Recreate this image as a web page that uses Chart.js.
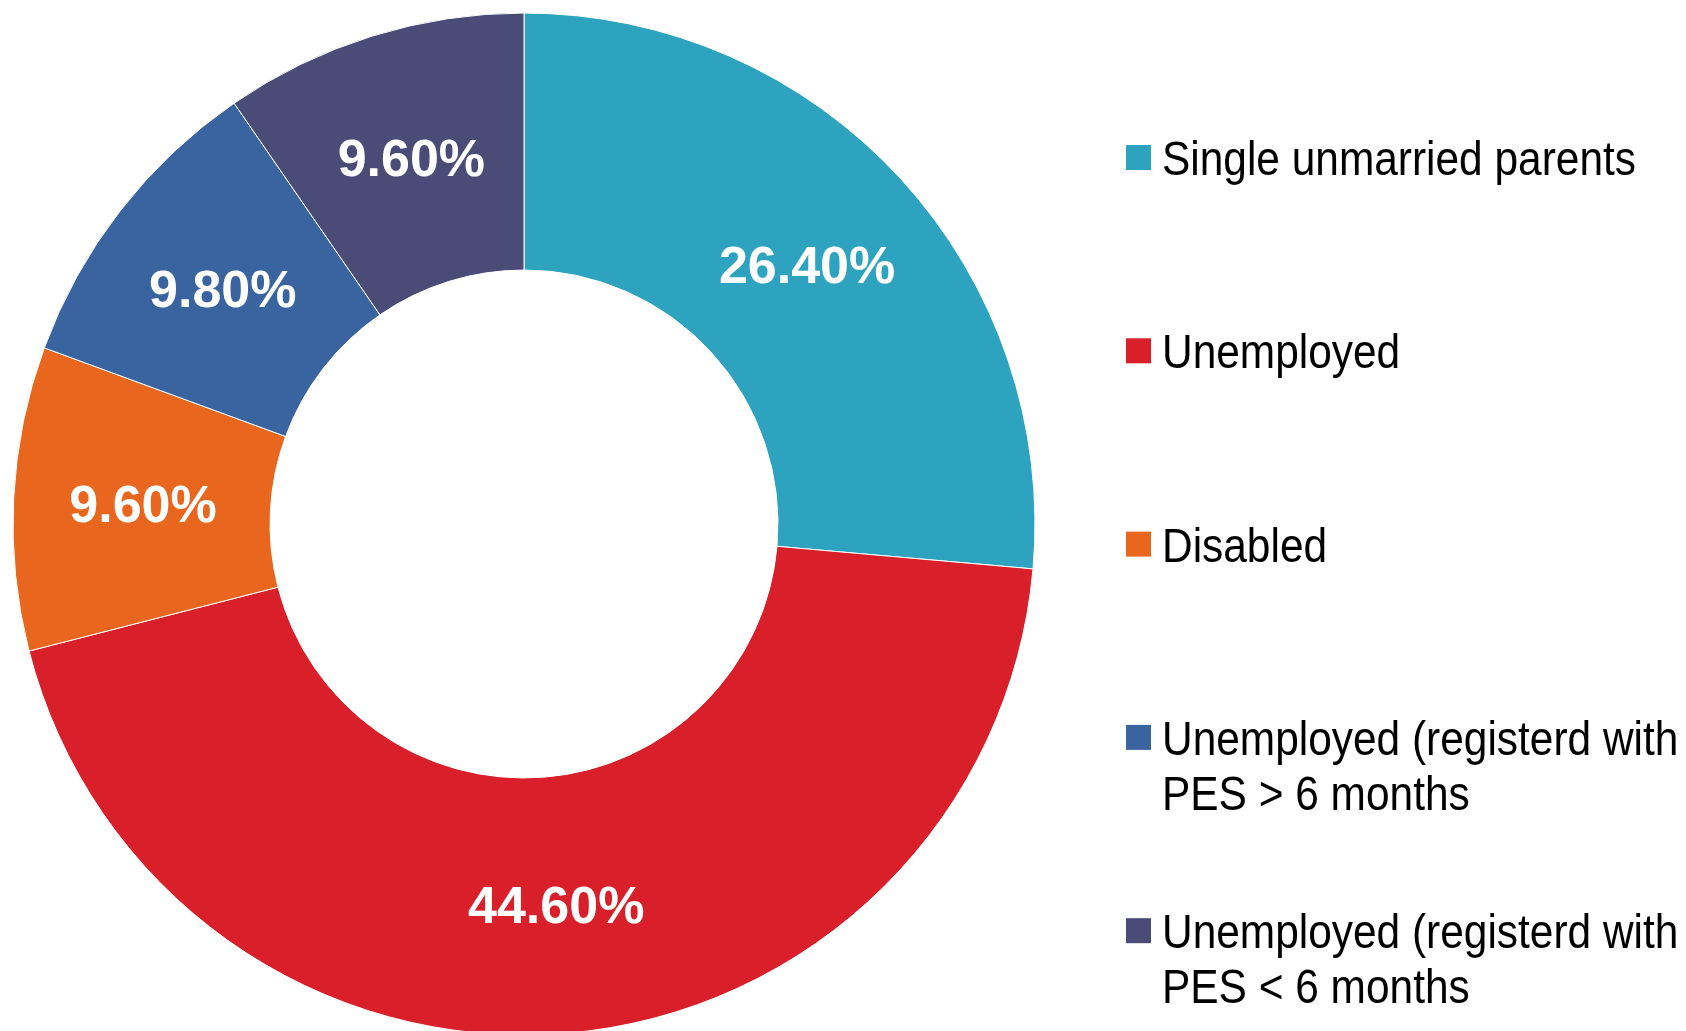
<!DOCTYPE html>
<html>
<head>
<meta charset="utf-8">
<script src="https://cdn.jsdelivr.net/npm/chart.js"></script>
<style>
  html, body { margin: 0; padding: 0; background: #fff; }
  #wrap { width: 1686px; height: 1031px; position: relative; }
</style>
</head>
<body>
<div id="wrap"><canvas id="donut"></canvas></div>
<script>
// categories, in clockwise order from 12 o'clock
const categories = [
    'Single unmarried parents',
    'Unemployed',
    'Disabled',
    'Unemployed (registerd with\nPES > 6 months',
    'Unemployed (registerd with\nPES < 6 months'
];
const shares = [26.4, 44.6, 9.6, 9.8, 9.6];   // per cent
const sliceColors = ['#2EA3BF', '#D91F29', '#E8661E', '#3A64A0', '#4A4B77'];

// white percentage text on each slice
const sliceLabels = {
    id: 'sliceLabels',
    afterDatasetsDraw(chart) {
        const ctx = chart.ctx;
        const meta = chart.getDatasetMeta(0);
        ctx.save();
        ctx.fillStyle = '#fff';
        ctx.font = 'bold 52px "Liberation Sans", Arial, sans-serif';
        ctx.textAlign = 'center';
        ctx.textBaseline = 'middle';
        meta.data.forEach((arc, i) => {
            const p = arc.tooltipPosition();
            ctx.fillText(shares[i].toFixed(2) + '%', p.x + 1, p.y + 3);
        });
        ctx.restore();
    }
};

// legend on the right, drawn on the canvas so multi-line labels work
// the source uses a narrow face, so squeeze the text horizontally
const sideLegend = {
    id: 'sideLegend',
    afterDraw(chart) {
        const ctx = chart.ctx;
        const left = 1126, top = 145, step = 193.3, box = 25, lineH = 55;
        ctx.save();
        ctx.font = '48px "Liberation Sans", Arial, sans-serif';
        ctx.textAlign = 'left';
        ctx.textBaseline = 'alphabetic';
        const squeeze = Math.min(1, 474 / ctx.measureText(categories[0]).width);
        categories.forEach((name, i) => {
            const y = top + i * step;
            ctx.fillStyle = sliceColors[i];
            ctx.fillRect(left, y, box, box);
            ctx.fillStyle = '#000';
            name.split('\n').forEach((line, j) => {
                ctx.save();
                ctx.translate(left + 36, y + 30 + j * lineH);
                ctx.scale(squeeze, 1);
                ctx.fillText(line, 0, 0);
                ctx.restore();
            });
        });
        ctx.restore();
    }
};

new Chart(document.getElementById('donut'), {
    type: 'doughnut',
    data: {
        labels: categories,
        datasets: [{
            data: shares,
            backgroundColor: sliceColors,
            borderColor: '#ffffff',
            borderWidth: 1,
            hoverOffset: 0
        }]
    },
    options: {
        responsive: true,
        maintainAspectRatio: false,
        animation: false,
        cutout: '49.7%',
        radius: 511,
        layout: { padding: { left: 0, right: 638, top: 17, bottom: 0 } },
        plugins: {
            legend: { display: false },
            tooltip: { enabled: false }
        }
    },
    plugins: [sliceLabels, sideLegend]
});
</script>
</body>
</html>
